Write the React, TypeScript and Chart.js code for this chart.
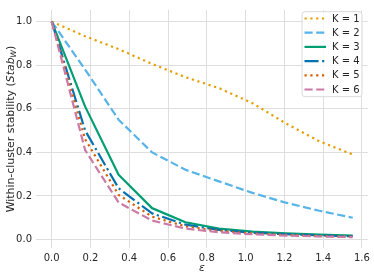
import React, { useEffect, useRef } from "react";
import { Chart, registerables } from "chart.js";

Chart.register(...registerables);

const epsilon = [0, 0.1725, 0.345, 0.5175, 0.69, 0.8625, 1.035, 1.2075, 1.38, 1.5525];
const stabK1 = [1.0, 0.933, 0.874, 0.806, 0.745, 0.695, 0.626, 0.533, 0.451, 0.39];
const stabK2 = [1.0, 0.78, 0.55, 0.4, 0.32, 0.267, 0.214, 0.169, 0.132, 0.1];
const stabK3 = [1.0, 0.61, 0.297, 0.144, 0.079, 0.05, 0.036, 0.028, 0.022, 0.018];
const stabK4 = [1.0, 0.5, 0.235, 0.12, 0.068, 0.044, 0.031, 0.024, 0.019, 0.015];
const stabK5 = [1.0, 0.46, 0.205, 0.105, 0.06, 0.04, 0.028, 0.021, 0.016, 0.013];
const stabK6 = [1.0, 0.41, 0.17, 0.087, 0.05, 0.033, 0.024, 0.018, 0.014, 0.011];

const seriesLabels = ["K = 1", "K = 2", "K = 3", "K = 4", "K = 5", "K = 6"];
const seriesColors = ["#E69F00", "#56B4E9", "#009E73", "#0072B2", "#D55E00", "#CC79A7"];
const xTicks = [0, 0.2, 0.4, 0.6, 0.8, 1.0, 1.2, 1.4, 1.6];
const yTicks = [0, 0.2, 0.4, 0.6, 0.8, 1.0];

const LW = 2.2;
const DOTTED = [LW, 1.65 * LW];
const DASHED = [3.7 * LW, 1.6 * LW];
const DASHDOT = [6.4 * LW, 1.6 * LW, LW, 1.6 * LW];
const seriesDashes = [DOTTED, DASHED, [], DASHDOT, DOTTED, DASHED];

const FONT = "'DejaVu Sans', sans-serif";
const TEXT = "#262626";
const LABEL_SIZE = 10.9;

const decorPlugin = {
  id: "decor",
  afterDraw(chart: any) {
    const ctx = chart.ctx as CanvasRenderingContext2D;
    const area = chart.chartArea;
    ctx.save();
    // x title
    ctx.fillStyle = TEXT;
    ctx.font = `italic ${LABEL_SIZE}px ${FONT}`;
    ctx.textAlign = "center";
    ctx.textBaseline = "middle";
    ctx.fillText("ε", (area.left + area.right) / 2, 268);

    // y title with italic Stab and subscript W
    const p1 = "Within-cluster stability (";
    const p2 = "Stab";
    const p3 = "W";
    const p4 = ")";
    const sub = LABEL_SIZE * 0.7;
    ctx.font = `${LABEL_SIZE}px ${FONT}`;
    const w1 = ctx.measureText(p1).width;
    const w4 = ctx.measureText(p4).width;
    ctx.font = `italic ${LABEL_SIZE}px ${FONT}`;
    const w2 = ctx.measureText(p2).width;
    ctx.font = `italic ${sub}px ${FONT}`;
    const w3 = ctx.measureText(p3).width;
    const total = w1 + w2 + w3 + w4;
    ctx.translate(14, (area.top + area.bottom) / 2);
    ctx.rotate(-Math.PI / 2);
    ctx.textAlign = "left";
    ctx.textBaseline = "alphabetic";
    let x = -total / 2;
    ctx.font = `${LABEL_SIZE}px ${FONT}`;
    ctx.fillText(p1, x, 0);
    x += w1;
    ctx.font = `italic ${LABEL_SIZE}px ${FONT}`;
    ctx.fillText(p2, x, 0);
    x += w2;
    ctx.font = `italic ${sub}px ${FONT}`;
    ctx.fillText(p3, x, 2);
    x += w3;
    ctx.font = `${LABEL_SIZE}px ${FONT}`;
    ctx.fillText(p4, x, 0);
    ctx.restore();

    // legend
    ctx.save();
    const bx = 302, by = 11.7, bw = 60, bh = 85, r = 3;
    ctx.beginPath();
    ctx.moveTo(bx + r, by);
    ctx.lineTo(bx + bw - r, by);
    ctx.arcTo(bx + bw, by, bx + bw, by + r, r);
    ctx.lineTo(bx + bw, by + bh - r);
    ctx.arcTo(bx + bw, by + bh, bx + bw - r, by + bh, r);
    ctx.lineTo(bx + r, by + bh);
    ctx.arcTo(bx, by + bh, bx, by + bh - r, r);
    ctx.lineTo(bx, by + r);
    ctx.arcTo(bx, by, bx + r, by, r);
    ctx.closePath();
    ctx.fillStyle = "rgba(255,255,255,0.8)";
    ctx.fill();
    ctx.strokeStyle = "#d9d9d9";
    ctx.lineWidth = 1;
    ctx.stroke();
    seriesLabels.forEach((lab, i) => {
      const y = 18.5 + i * 14.2;
      ctx.beginPath();
      ctx.setLineDash(seriesDashes[i]);
      ctx.lineCap = "butt";
      ctx.strokeStyle = seriesColors[i];
      ctx.lineWidth = LW;
      ctx.moveTo(304.5, y);
      ctx.lineTo(326, y);
      ctx.stroke();
      ctx.setLineDash([]);
      ctx.fillStyle = TEXT;
      ctx.font = `10px ${FONT}`;
      ctx.textAlign = "left";
      ctx.textBaseline = "middle";
      ctx.fillText(lab, 332, y + 0.5);
    });
    ctx.restore();
  },
};

export default function App() {
  const ref = useRef<HTMLCanvasElement | null>(null);
  useEffect(() => {
    document.body.style.margin = "0";
    const series = [stabK1, stabK2, stabK3, stabK4, stabK5, stabK6];
    const chart = new Chart(ref.current as HTMLCanvasElement, {
      type: "line",
      data: {
        datasets: series.map((vals, i) => ({
          label: seriesLabels[i],
          data: vals.map((v, j) => ({ x: epsilon[j], y: v })),
          borderColor: seriesColors[i],
          backgroundColor: seriesColors[i],
          borderWidth: LW,
          borderDash: seriesDashes[i],
          borderCapStyle: "butt",
          borderJoinStyle: "round",
          pointRadius: 0,
          tension: 0,
          fill: false,
          order: series.length - 1 - i,
        })),
      },
      options: {
        animation: false,
        responsive: false,
        layout: { padding: { top: 5, right: 6, left: 0, bottom: 0 } },
        plugins: {
          legend: { display: false },
          tooltip: { enabled: false },
        },
        scales: {
          x: {
            type: "linear",
            min: -0.081,
            max: 1.63,
            afterBuildTicks: (s: any) => {
              s.ticks = xTicks.map((v) => ({ value: v }));
            },
            afterFit: (s: any) => {
              s.height = 31;
            },
            grid: { color: "#dedede", lineWidth: 1, drawTicks: false },
            border: { display: false },
            ticks: {
              autoSkip: false,
              maxRotation: 0,
              padding: 4,
              color: TEXT,
              font: { family: FONT, size: 10 },
              callback: (v: any) => Number(v).toFixed(1),
            },
          },
          y: {
            type: "linear",
            min: -0.039,
            max: 1.0535,
            afterBuildTicks: (s: any) => {
              s.ticks = yTicks.map((v) => ({ value: v }));
            },
            afterFit: (s: any) => {
              s.width = 36;
            },
            grid: { color: "#dedede", lineWidth: 1, drawTicks: false },
            border: { display: false },
            ticks: {
              autoSkip: false,
              padding: 4,
              color: TEXT,
              font: { family: FONT, size: 10 },
              callback: (v: any) => Number(v).toFixed(1),
            },
          },
        },
      } as any,
      plugins: [decorPlugin],
    });
    return () => chart.destroy();
  }, []);
  return (
    <div style={{ position: "fixed", left: 0, top: 0, width: 374, height: 279, background: "#fff" }}>
      <canvas ref={ref} width={374} height={279} style={{ display: "block" }} />
    </div>
  );
}
